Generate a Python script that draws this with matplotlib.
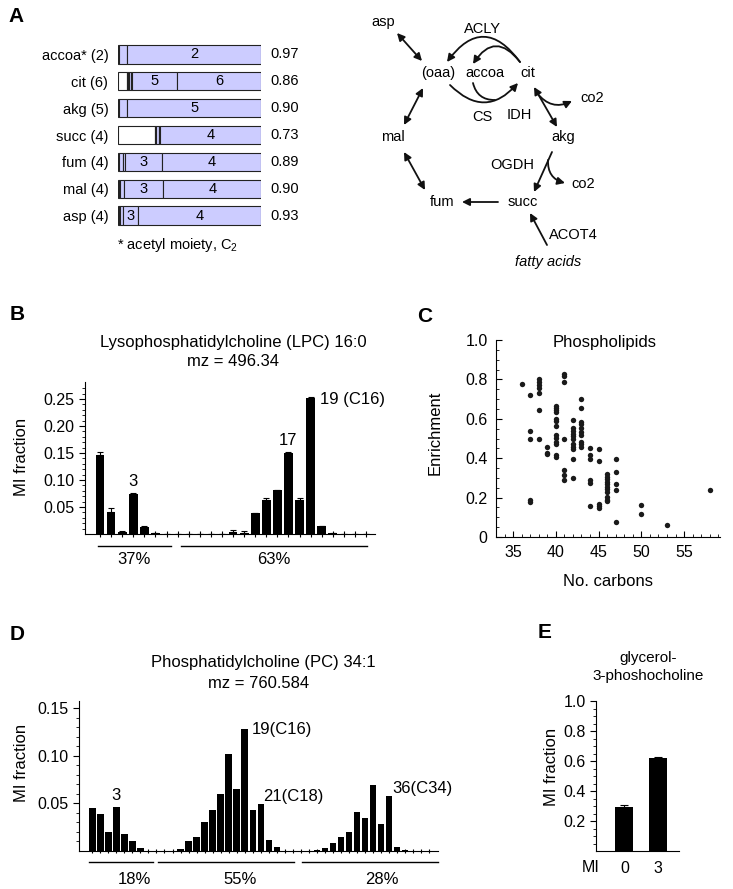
import numpy as np
import matplotlib
matplotlib.use('Agg')
import matplotlib.pyplot as plt
from matplotlib.patches import FancyArrowPatch

plt.rcParams['font.family'] = ['Liberation Sans', 'DejaVu Sans']
plt.rcParams['mathtext.default'] = 'regular'

W, H = 733, 889

# ---- panel A: isotopologue fractions of TCA metabolites
a_names = ['accoa* (2)', 'cit (6)', 'akg (5)', 'succ (4)', 'fum (4)', 'mal (4)', 'asp (4)']
a_fracs = [
    [0.005, 0.06, 0.935],
    [0.06, 0.008, 0.012, 0.01, 0.01, 0.31, 0.59],
    [0.005, 0.005, 0.0, 0.0, 0.055, 0.935],
    [0.259, 0.008, 0.022, 0.005, 0.706],
    [0.007, 0.028, 0.012, 0.259, 0.694],
    [0.005, 0.01, 0.025, 0.278, 0.682],
    [0.005, 0.01, 0.02, 0.105, 0.86],
]
a_enrich = ['0.97', '0.86', '0.90', '0.73', '0.89', '0.90', '0.93']

# ---- panel B: LPC 16:0
b_mi = np.arange(25)
b_frac = [0.147, 0.041, 0.004, 0.074, 0.013, 0.001, 0.0005, 0, 0, 0, 0, 0,
          0.004, 0.002, 0.038, 0.063, 0.081, 0.150, 0.063, 0.252, 0.014, 0.002, 0, 0, 0]
b_err = [0.004, 0.008, 0.001, 0.002, 0.001, 0, 0, 0, 0, 0, 0, 0,
         0.004, 0.004, 0.001, 0.004, 0.001, 0.001, 0.003, 0.002, 0.001, 0, 0, 0, 0]
b_groups = [(-0.2, 6.4, '37%'), (7.3, 24.1, '63%')]

# ---- panel C: enrichment vs number of carbons
c_carbons = [36,
             37, 37, 37, 37, 37,
             38, 38, 38, 38, 38, 38, 38,
             39, 39, 39,
             40, 40, 40, 40, 40, 40, 40, 40, 40, 40, 40, 40, 40,
             41, 41, 41, 41, 41, 41, 41,
             42, 42, 42, 42, 42, 42, 42, 42, 42, 42, 42,
             43, 43, 43, 43, 43, 43, 43, 43, 43, 43,
             44, 44, 44, 44, 44, 44,
             45, 45, 45, 45, 45,
             46, 46, 46, 46, 46, 46, 46, 46, 46, 46, 46,
             47, 47, 47, 47, 47,
             50, 50, 53, 58]
c_enrich = [0.776,
            0.72, 0.54, 0.50, 0.19, 0.18,
            0.80, 0.785, 0.77, 0.756, 0.73, 0.644, 0.497,
            0.458, 0.424, 0.42,
            0.664, 0.653, 0.644, 0.632, 0.60, 0.59, 0.563, 0.517, 0.505, 0.483, 0.47, 0.415, 0.407,
            0.827, 0.818, 0.788, 0.50, 0.342, 0.314, 0.288,
            0.593, 0.551, 0.537, 0.525, 0.512, 0.495, 0.47, 0.458, 0.446, 0.398, 0.30,
            0.698, 0.653, 0.585, 0.573, 0.551, 0.534, 0.52, 0.483, 0.47, 0.458,
            0.453, 0.415, 0.398, 0.288, 0.275, 0.158,
            0.449, 0.385, 0.17, 0.158, 0.149,
            0.319, 0.305, 0.293, 0.28, 0.268, 0.254, 0.242, 0.229, 0.203, 0.19, 0.181,
            0.395, 0.33, 0.271, 0.241, 0.076,
            0.161, 0.115, 0.059, 0.241]

# ---- panel D: PC 34:1
d_mi = np.arange(43)
d_frac = [0.045, 0.039, 0.020, 0.046, 0.018, 0.0105, 0.0035, 0, 0, 0, 0,
          0.002, 0.010, 0.015, 0.030, 0.043, 0.060, 0.102, 0.065, 0.128, 0.043, 0.049,
          0.0115, 0.004, 0.0005, 0, 0, 0,
          0.001, 0.003, 0.008, 0.015, 0.020, 0.041, 0.035, 0.069, 0.0285, 0.058,
          0.004, 0.001, 0, 0, 0]
d_groups = [(-0.4, 7.6, '18%', 5.2), (8.2, 25.2, '55%', 18.4), (26.1, 43.1, '28%', 36.1)]

# ---- panel E: glycerol-3-phosphocholine
e_labels = ['0', '3']
e_frac = [0.295, 0.622]
e_err = [0.01, 0.008]

fig = plt.figure(figsize=(W / 100, H / 100), dpi=100)


def box(x0, y0, x1, y1):
    return [x0 / W, 1 - y1 / H, (x1 - x0) / W, (y1 - y0) / H]


def ftext(x, y, s, **kw):
    kw.setdefault('ha', 'center')
    kw.setdefault('va', 'center')
    fig.text(x / W, 1 - y / H, s, **kw)


# panel letters
for lab, x, y in [('A', 16, 16), ('B', 17, 315), ('C', 425, 317), ('D', 17, 635), ('E', 545, 632)]:
    ftext(x, y, lab, fontsize=15, fontweight='bold')

# ---------------- A: stacked bars
axA = fig.add_axes(box(118, 41, 261, 229))
for r, fr in enumerate(a_fracs):
    left = 0
    for k, w in enumerate(fr):
        axA.barh(r, w, left=left, height=0.68, color='white' if k == 0 else '#ccccff',
                 edgecolor='#222222', linewidth=0.8)
        if k > 0 and w > 0.09:
            axA.text(left + w / 2, r, str(k), ha='center', va='center', fontsize=10.5)
        left += w
    axA.text(1.065, r, a_enrich[r], ha='left', va='center', fontsize=10.5, clip_on=False)
axA.set_xlim(0, 1)
axA.set_ylim(6.5, -0.5)
axA.set_yticks(range(len(a_names)), a_names, fontsize=10.5)
axA.tick_params(axis='y', length=0, pad=7)
axA.set_xticks([])
for s in axA.spines.values():
    s.set_visible(False)
ftext(117, 245, r'* acetyl moiety, C$_2$', ha='left', fontsize=10.5)

# ---------------- A: pathway diagram
ov = fig.add_axes([0, 0, 1, 1])
ov.set_xlim(0, W)
ov.set_ylim(H, 0)
ov.axis('off')

nodes = [('asp', 383, 22), ('ACLY', 482, 29), ('(oaa)', 438, 73), ('accoa', 485, 73),
         ('cit', 528, 73), ('co2', 592, 98), ('CS', 482, 117), ('IDH', 519, 115),
         ('mal', 393, 137), ('akg', 563, 137), ('OGDH', 512, 165), ('co2', 583, 184),
         ('fum', 442, 202), ('succ', 523, 202), ('ACOT4', 573, 235)]
for s, x, y in nodes:
    ov.text(x, y, s, ha='center', va='center', fontsize=10.5)
ov.text(548, 262, 'fatty acids', ha='center', va='center', fontsize=10.5, style='italic')


def arrow(p, q, style='-|>', rad=0.0):
    a = FancyArrowPatch(p, q, arrowstyle=style, connectionstyle='arc3,rad=%s' % rad,
                        mutation_scale=11, lw=1.3, color='#111111',
                        shrinkA=0, shrinkB=0)
    ov.add_patch(a)


arrow((397, 33), (422, 61), '<|-|>')
arrow((520, 62), (447, 62), '-|>', 0.68)
arrow((520, 62), (473, 64), '-|>', 0.7)
arrow((450, 85), (518, 83), '-|>', 0.53)
arrow((473, 83), (495, 100), '-', 0.4)
arrow((534, 87), (557, 127), '<|-|>')
arrow((537, 93), (572, 101), '-|>', 0.4)
arrow((423, 88), (404, 125), '<|-|>')
arrow((404, 152), (425, 190), '<|-|>')
arrow((552, 152), (534, 192), '-|>')
arrow((548, 160), (565, 183), '-|>', 0.4)
arrow((498, 202), (462, 202), '-|>')
arrow((547, 245), (530, 213), '-|>')

# ---------------- B
axB = fig.add_axes(box(85, 382, 375, 534))
axB.bar(b_mi, b_frac, width=0.8, color='black',
        yerr=[np.zeros(len(b_err)), b_err],
        error_kw=dict(ecolor='black', capsize=2, elinewidth=0.8, capthick=0.8))
axB.set_xlim(-1.35, 24.8)
axB.set_ylim(0, 0.2815)
axB.set_yticks([0.05, 0.10, 0.15, 0.20, 0.25], ['0.05', '0.10', '0.15', '0.20', '0.25'])
axB.set_yticks(np.arange(0.01, 0.28, 0.01), minor=True)
axB.set_xticks(b_mi, [])
axB.tick_params(axis='x', direction='inout', length=4, width=0.8)
axB.tick_params(axis='y', which='major', direction='out', length=4, width=0.8, labelsize=11.5)
axB.tick_params(axis='y', which='minor', direction='out', length=2, width=0.6)
axB.spines[['top', 'right']].set_visible(False)
axB.annotate('3', (3, b_frac[3] + b_err[3]), xytext=(0, 3), textcoords='offset points',
             ha='center', va='bottom', fontsize=12)
axB.annotate('17', (17, b_frac[17] + b_err[17]), xytext=(0, 3), textcoords='offset points',
             ha='center', va='bottom', fontsize=12)
axB.annotate('19 (C16)', (19, b_frac[19]), xytext=(7, -1), textcoords='offset points',
             ha='left', va='center', fontsize=12)
for x0, x1, lab in b_groups:
    axB.plot([x0, x1], [-0.079, -0.079], color='black', lw=1, clip_on=False,
             transform=axB.get_xaxis_transform())
    axB.text((x0 + x1) / 2, -0.165, lab, ha='center', va='center', fontsize=12,
             transform=axB.get_xaxis_transform())
ftext(233, 343, 'Lysophosphatidylcholine (LPC) 16:0', fontsize=12)
ftext(233, 362, 'mz = 496.34', fontsize=12)
ftext(22, 457, 'MI fraction', rotation=90, fontsize=12)

# ---------------- C
axC = fig.add_axes(box(496, 340, 720, 537))
axC.scatter(c_carbons, c_enrich, s=15, color='#1a1a1a', linewidths=0)
axC.set_xlim(33, 59.2)
axC.set_ylim(0, 1.0)
axC.set_xticks([35, 40, 45, 50, 55])
axC.set_xticks(np.arange(34, 60, 1), minor=True)
axC.set_yticks([0, 0.2, 0.4, 0.6, 0.8, 1.0], ['0', '0.2', '0.4', '0.6', '0.8', '1.0'])
axC.set_yticks(np.arange(0.05, 1.0, 0.05), minor=True)
axC.tick_params(which='major', direction='in', length=4, width=0.8, labelsize=11.5, pad=6)
axC.tick_params(which='minor', direction='in', length=2, width=0.6)
axC.spines[['top', 'right']].set_visible(False)
ftext(605, 343, 'Phospholipids', fontsize=12)
ftext(608, 582, 'No. carbons', fontsize=12)
ftext(435, 433, 'Enrichment', rotation=90, fontsize=12)

# ---------------- D
axD = fig.add_axes(box(79, 701, 438, 851))
axD.bar(d_mi, d_frac, width=0.8, color='black')
axD.set_xlim(-1.66, 43.1)
axD.set_ylim(0, 0.1575)
axD.set_yticks([0.05, 0.10, 0.15], ['0.05', '0.10', '0.15'])
axD.set_yticks(np.arange(0.01, 0.16, 0.01), minor=True)
axD.set_xticks(d_mi, [])
axD.tick_params(axis='x', direction='inout', length=3, width=0.8)
axD.tick_params(axis='y', which='major', direction='out', length=4, width=0.8, labelsize=11.5)
axD.tick_params(axis='y', which='minor', direction='out', length=2, width=0.6)
axD.spines[['top', 'right']].set_visible(False)
axD.annotate('3', (3, d_frac[3]), xytext=(0, 3), textcoords='offset points',
             ha='center', va='bottom', fontsize=12)
axD.annotate('19(C16)', (19, d_frac[19]), xytext=(5, 0), textcoords='offset points',
             ha='left', va='center', fontsize=12)
axD.annotate('21(C18)', (21, d_frac[21]), xytext=(2, 6), textcoords='offset points',
             ha='left', va='center', fontsize=12)
axD.annotate('36(C34)', (37, d_frac[37]), xytext=(2, 5), textcoords='offset points',
             ha='left', va='center', fontsize=12)
for x0, x1, lab, xt in d_groups:
    axD.plot([x0, x1], [-0.071, -0.071], color='black', lw=1, clip_on=False,
             transform=axD.get_xaxis_transform())
    axD.text(xt, -0.193, lab, ha='center', va='center', fontsize=12,
             transform=axD.get_xaxis_transform())
ftext(263, 663, 'Phosphatidylcholine (PC) 34:1', fontsize=12)
ftext(259, 683, 'mz = 760.584', fontsize=12)
ftext(22, 763, 'MI fraction', rotation=90, fontsize=12)

# ---------------- E
axE = fig.add_axes(box(596, 701, 679, 851))
axE.bar(range(len(e_frac)), e_frac, width=0.54, color='black',
        yerr=[np.zeros(len(e_err)), e_err],
        error_kw=dict(ecolor='black', capsize=3, elinewidth=0.8, capthick=0.8))
axE.set_xlim(-0.85, 1.64)
axE.set_ylim(0, 1.0)
axE.set_xticks(range(len(e_labels)), e_labels)
axE.set_yticks([0.2, 0.4, 0.6, 0.8, 1.0], ['0.2', '0.4', '0.6', '0.8', '1.0'])
axE.set_yticks(np.arange(0.05, 1.0, 0.05), minor=True)
axE.tick_params(axis='x', length=0, pad=7, labelsize=11.5)
axE.tick_params(axis='y', which='major', direction='out', length=4, width=0.8, labelsize=11.5)
axE.tick_params(axis='y', which='minor', direction='out', length=2, width=0.6)
axE.spines[['top', 'right']].set_visible(False)
ftext(591, 868, 'MI', fontsize=11.5)
ftext(648, 658, 'glycerol-', fontsize=11)
ftext(648, 676, '3-phoshocholine', fontsize=11)
ftext(552, 767, 'MI fraction', rotation=90, fontsize=12)

fig.savefig('out.png', dpi=100)
